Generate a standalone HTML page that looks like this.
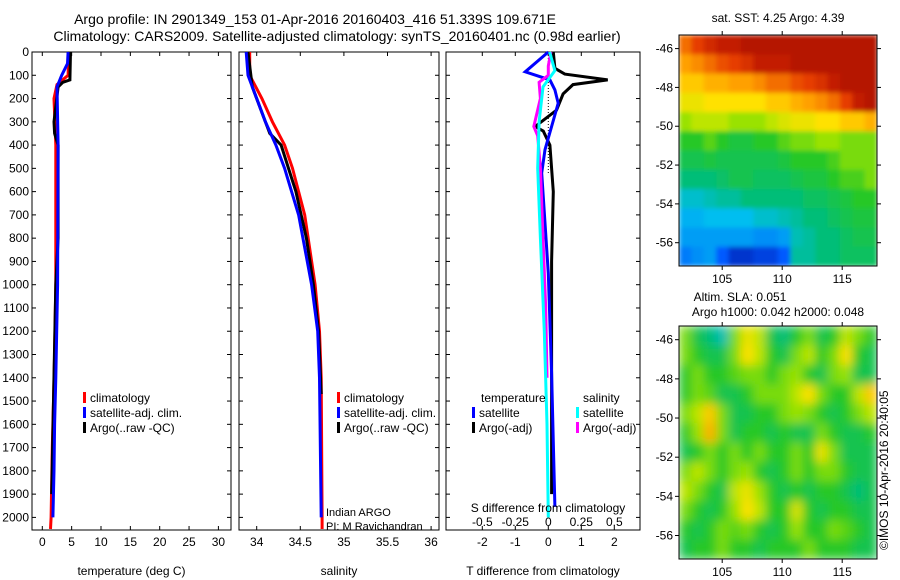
<!DOCTYPE html>
<html><head><meta charset="utf-8"><style>
body{margin:0;background:#fff;}
svg{display:block;font-family:"Liberation Sans",sans-serif;}
text{font-size:12px;fill:#000;}
</style></head><body>
<svg id="fig" width="900" height="580" viewBox="0 0 900 580">
<defs>
<filter id="blurS" x="0" y="0" width="1" height="1"><feGaussianBlur stdDeviation="5" edgeMode="duplicate"/></filter>
<filter id="blurT" x="0" y="0" width="1" height="1"><feGaussianBlur stdDeviation="2.5" edgeMode="duplicate"/></filter>
</defs>
<text x="315" y="24" text-anchor="middle" style="font-size:14px">Argo profile: IN 2901349_153 01-Apr-2016 20160403_416 51.339S 109.671E</text>
<text x="337" y="41" text-anchor="middle" style="font-size:14px">Climatology: CARS2009. Satellite-adjusted climatology: synTS_20160401.nc (0.98d earlier)</text>
<g id="p1"></g>
<g id="p2"></g>
<g id="p3"></g>
<g id="m1"></g>
<g id="m2"></g>
<text x="778" y="22" text-anchor="middle">sat. SST: 4.25 Argo: 4.39</text>
<text x="740" y="301" text-anchor="middle">Altim. SLA: 0.051</text>
<text x="778" y="316" text-anchor="middle">Argo h1000: 0.042 h2000: 0.048</text>
<text x="0" y="0" transform="translate(888,550) rotate(-90)">©IMOS 10-Apr-2016 20:40:05</text>
</svg>
<script>
// ---- data ----
const depthTicks=[0,100,200,300,400,500,600,700,800,900,1000,1100,1200,1300,1400,1500,1600,1700,1800,1900,2000];
const tTicks=[0,5,10,15,20,25,30];
const sTicks=[34,34.5,35,35.5,36];
const dTTicks=[-2,-1,0,1,2];
const dSTicks=[-0.5,-0.25,0,0.25,0.5];
const dSTickLabels=["-0.5","-0.25","0","0.25","0.5"];
const tClimD=[0,100,140,200,400,1000,1300,1500,1700,2000,2050];
const tClimV=[4.5,4.4,2.5,2.0,2.3,2.3,2.1,1.9,1.7,1.5,1.4];
const tSatD=[0,50,100,150,400,1000,1400,1600,1800,2000];
const tSatV=[4.4,4.3,3.3,2.5,2.7,2.6,2.3,2.1,2.0,1.8];
const tArgoD=[0,120,130,150,300,350,400,800,1000,1500,1900];
const tArgoV=[4.8,4.7,3.5,2.7,2.0,2.1,2.7,2.7,2.3,1.9,1.6];
const sClimD=[0,100,200,300,400,500,700,1000,1200,1400,2000,2050];
const sClimV=[33.92,33.92,34.06,34.18,34.32,34.41,34.55,34.67,34.72,34.74,34.75,34.75];
const sSatD=[0,100,200,300,400,500,700,1000,1200,1400,2000];
const sSatV=[33.88,33.9,34.0,34.1,34.22,34.32,34.48,34.63,34.7,34.72,34.74];
const sArgoD=[0,150,300,350,400,600,800,1000,1200,1470];
const sArgoV=[33.9,33.95,34.1,34.15,34.28,34.45,34.57,34.65,34.71,34.74];
const dTSatD=[0,85,120,163,220,320,420,520,950,1380,1955];
const dTSatV=[0,-0.7,0.05,0.2,0.3,0.1,-0.1,-0.2,0,0.1,0.2];
const dTArgoD=[0,70,95,120,140,180,250,320,340,400,600,900,1100,1900];
const dTArgoV=[0.15,0.2,0.5,1.8,0.75,0.45,0.25,-0.4,-0.15,0.05,0.15,0.1,0.1,0.1];
const dSSatD=[0,80,150,300,500,800,1200,1600,2000];
const dSSatV=[0.01,0.05,-0.04,-0.07,-0.08,-0.06,-0.03,-0.01,0];
const dSArgoD=[0,60,100,130,200,320,360,500,800,1100,1400];
const dSArgoV=[0.02,0.0,0,-0.07,-0.06,-0.11,-0.08,-0.06,-0.04,-0.02,-0.01];
const lonTicks=[105,110,115];
const latTicks=[-46,-48,-50,-52,-54,-56];
const sstGrid=[
[.85,.9,.93,.95,.95,.97,.97,.97,.97,.97,.97,.97,.97,.97,.97,.97],
[.8,.82,.85,.88,.9,.92,.95,.95,.95,.97,.97,.97,.97,.97,.97,.97],
[.75,.75,.78,.78,.8,.8,.82,.85,.85,.88,.9,.92,.95,.97,.97,.97],
[.7,.7,.72,.72,.72,.72,.72,.75,.75,.78,.8,.82,.85,.9,.95,.97],
[.62,.65,.65,.65,.62,.62,.62,.65,.68,.7,.7,.72,.72,.75,.75,.78],
[.55,.55,.58,.55,.52,.52,.55,.55,.58,.6,.6,.62,.62,.6,.6,.6],
[.5,.5,.52,.5,.5,.5,.5,.5,.52,.55,.55,.55,.57,.6,.6,.6],
[.45,.45,.45,.47,.5,.5,.48,.48,.48,.5,.52,.52,.55,.57,.57,.6],
[.38,.38,.4,.42,.42,.45,.45,.45,.45,.45,.48,.48,.5,.52,.55,.55],
[.33,.33,.35,.35,.35,.35,.38,.38,.4,.42,.45,.45,.48,.5,.52,.52],
[.3,.3,.3,.3,.3,.3,.28,.28,.3,.4,.42,.45,.45,.48,.5,.5],
[.25,.28,.3,.2,.12,.12,.15,.15,.2,.42,.42,.45,.45,.48,.48,.48]];
const slaGrid=[
[.6,.5,.45,.4,.6,.7,.65,.5,.45,.55,.6,.5,.55,.65,.6,.55],
[.6,.55,.5,.5,.6,.72,.65,.55,.5,.6,.65,.55,.6,.72,.55,.5],
[.55,.6,.55,.55,.58,.6,.6,.55,.6,.62,.55,.5,.6,.62,.5,.5],
[.55,.6,.58,.5,.5,.55,.6,.6,.6,.65,.72,.6,.55,.55,.65,.75],
[.6,.65,.75,.6,.5,.5,.55,.55,.6,.62,.6,.55,.5,.55,.6,.65],
[.55,.62,.78,.6,.5,.55,.55,.5,.55,.5,.5,.6,.55,.5,.5,.55],
[.5,.55,.6,.55,.6,.55,.6,.55,.55,.6,.55,.7,.6,.5,.5,.5],
[.6,.65,.6,.55,.6,.62,.55,.5,.55,.6,.55,.6,.6,.55,.5,.5],
[.65,.6,.55,.5,.65,.7,.62,.55,.5,.55,.5,.55,.55,.5,.45,.5],
[.6,.55,.5,.55,.62,.72,.65,.55,.55,.68,.55,.5,.55,.55,.5,.5],
[.55,.5,.55,.6,.58,.6,.55,.5,.55,.62,.55,.55,.6,.58,.55,.5],
[.5,.55,.55,.6,.55,.55,.5,.55,.55,.55,.6,.55,.55,.55,.5,.5]];
// ---- drawing ----
const NS="http://www.w3.org/2000/svg";
function mk(parent,tag,attrs){const e=document.createElementNS(NS,tag);for(const k in attrs)e.setAttribute(k,attrs[k]);parent.appendChild(e);return e;}
const Y0=52,Y1=530,KY=0.2327;
function yD(d){return Y0+d*KY;}
function panel(g,x0,x1,xf,ticks,labels,xlabel,showDepth){
  const r=mk(g,'rect',{x:x0,y:Y0,width:x1-x0,height:Y1-Y0,fill:'none',stroke:'#000','stroke-width':1});
  
  
  depthTicks.forEach(d=>{
    mk(g,'line',{x1:x0,x2:x0+4,y1:yD(d),y2:yD(d),stroke:'#000'});
    mk(g,'line',{x1:x1,x2:x1-4,y1:yD(d),y2:yD(d),stroke:'#000'});
    if(showDepth){const t=mk(g,'text',{x:x0-3,y:yD(d)+4,'text-anchor':'end'});t.textContent=d;
      
      }
  });
  ticks.forEach((v,i)=>{
    mk(g,'line',{x1:xf(v),x2:xf(v),y1:Y1,y2:Y1-4,stroke:'#000'});
    mk(g,'line',{x1:xf(v),x2:xf(v),y1:Y0,y2:Y0+4,stroke:'#000'});
    const t=mk(g,'text',{x:xf(v),y:Y1+16,'text-anchor':'middle'});t.textContent=labels?labels[i]:v;
    
    
  });
  const xl=mk(g,'text',{x:(x0+x1)/2,y:Y1+45,'text-anchor':'middle'});xl.textContent=xlabel;
  
  
}
function line(g,D,V,xf,col,name,w){
  const p=mk(g,'polyline',{points:D.map((d,i)=>xf(V[i]).toFixed(1)+','+yD(d).toFixed(1)).join(' '),fill:'none',stroke:col,'stroke-width':w||3});
  
  
}
function legend(g,x,y,items){
  items.forEach((it,i)=>{
    mk(g,'rect',{x:x,y:y+i*15-10,width:3,height:11,fill:it[0]});
    const t=mk(g,'text',{x:x+7,y:y+i*15});t.textContent=it[1];
    
    
  });
}
// panel 1
const p1=document.getElementById('p1');
const xT=v=>42.3+v*5.87;
panel(p1,32,231,xT,tTicks,null,'temperature (deg C)',true);
line(p1,tClimD,tClimV,xT,'#f00','temp-climatology-line');
line(p1,tArgoD,tArgoV,xT,'#000','temp-argo-line');
line(p1,tSatD,tSatV,xT,'#00f','temp-satellite-line');
legend(p1,83,402,[['#f00','climatology'],['#00f','satellite-adj. clim.'],['#000','Argo(..raw -QC)']]);
// panel 2
const p2=document.getElementById('p2');
const xS=v=>256.7+(v-34)*87.2;
panel(p2,239,439,xS,sTicks,null,'salinity',false);
line(p2,sClimD,sClimV,xS,'#f00','sal-climatology-line');
line(p2,sArgoD,sArgoV,xS,'#000','sal-argo-line');
line(p2,sSatD,sSatV,xS,'#00f','sal-satellite-line');
legend(p2,337,402,[['#f00','climatology'],['#00f','satellite-adj. clim.'],['#000','Argo(..raw -QC)']]);
let t=mk(p2,'text',{x:326,y:516,style:'font-size:11px'});t.textContent='Indian ARGO';


t=mk(p2,'text',{x:326,y:530,style:'font-size:11px'});t.textContent='PI: M Ravichandran';


// panel 3
const p3=document.getElementById('p3');
const xDT=v=>548.3+v*33;
const xDS=v=>548.3+v*132;
panel(p3,446,640,xDT,dTTicks,null,'T difference from climatology',false);
mk(p3,'line',{x1:548.3,x2:548.3,y1:Y0,y2:yD(520),stroke:'#000','stroke-dasharray':'1,2'});
line(p3,dTArgoD,dTArgoV,xDT,'#000','dT-argo-line');
line(p3,dTSatD,dTSatV,xDT,'#00f','dT-satellite-line');
line(p3,dSArgoD,dSArgoV,xDS,'#f0f','dS-argo-line');
line(p3,dSSatD,dSSatV,xDS,'#0ff','dS-satellite-line');
dSTicks.forEach((v,i)=>{const tt=mk(p3,'text',{x:xDS(v),y:526,'text-anchor':'middle'});tt.textContent=dSTickLabels[i];
  
  });
t=mk(p3,'text',{x:548,y:512,'text-anchor':'middle'});t.textContent='S difference from climatology';
t=mk(p3,'text',{x:481,y:402});t.textContent='temperature';
t=mk(p3,'text',{x:583,y:402});t.textContent='salinity';
legend(p3,472,417,[['#00f','satellite'],['#000','Argo(-adj)']]);
legend(p3,576,417,[['#0ff','satellite'],['#f0f','Argo(-adj)']]);
// maps
const cmapStops=[[0,0,0,130],[0.2,0,90,255],[0.35,0,190,240],[0.45,0,190,120],[0.55,40,200,40],[0.63,170,230,0],[0.72,255,225,0],[0.8,255,160,0],[0.9,230,60,0],[1,160,0,0]];
function cmap(v){
  for(let i=1;i<cmapStops.length;i++){const a=cmapStops[i-1],b=cmapStops[i];
    if(v<=b[0]){const f=(v-a[0])/(b[0]-a[0]);return 'rgb('+[1,2,3].map(k=>Math.round(a[k]+(b[k]-a[k])*f)).join(',')+')';}}
  return 'rgb(160,0,0)';
}
function map(g,grid,top,bot,latTop,latBot,filt){
  const L=679,R=877,lon0=101.4,lon1=117.9;
  const xl=v=>L+(v-lon0)*(R-L)/(lon1-lon0);
  const yl=v=>top+(latTop-v)*(bot-top)/(latTop-latBot);
  const rows=grid.length,cols=grid[0].length;
  const cw=(R-L)/cols,ch=(bot-top)/rows;
  const cg=mk(g,'g',{filter:'url(#'+filt+')'});
  grid.forEach((row,i)=>row.forEach((v,j)=>{
    const c=mk(cg,'rect',{x:L+j*cw,y:top+i*ch,width:cw+0.5,height:ch+0.5,fill:cmap(v)});
    
    
  }));
  mk(g,'rect',{x:L,y:top,width:R-L,height:bot-top,fill:'none',stroke:'#000'});
  lonTicks.forEach(v=>{mk(g,'line',{x1:xl(v),x2:xl(v),y1:bot,y2:bot+4,stroke:'#000'});
    mk(g,'line',{x1:xl(v),x2:xl(v),y1:top,y2:top-4,stroke:'#000'});
    const tt=mk(g,'text',{x:xl(v),y:bot+17,'text-anchor':'middle'});tt.textContent=v;
    
    });
  latTicks.forEach(v=>{mk(g,'line',{x1:L-4,x2:L,y1:yl(v),y2:yl(v),stroke:'#000'});
    mk(g,'line',{x1:R,x2:R+4,y1:yl(v),y2:yl(v),stroke:'#000'});
    const tt=mk(g,'text',{x:L-6,y:yl(v)+4,'text-anchor':'end'});tt.textContent=v;
    
    });
}
map(document.getElementById('m1'),sstGrid,35,266,-45.3,-57.2,'blurT');
map(document.getElementById('m2'),slaGrid,326,559,-45.3,-57.2,'blurS');
</script>
</body></html>
